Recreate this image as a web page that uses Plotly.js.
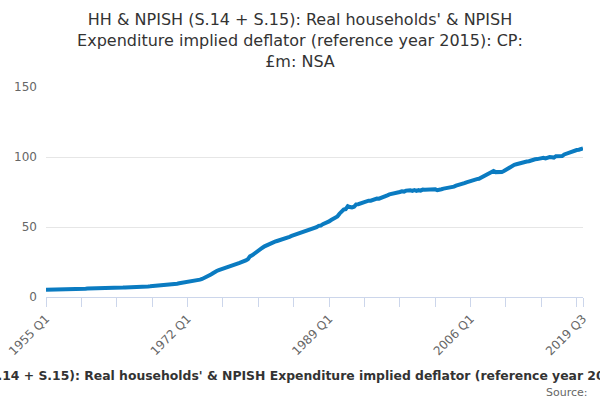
<!DOCTYPE html>
<html>
<head>
<meta charset="utf-8">
<script src="https://cdn.plot.ly/plotly-3.0.1.min.js"></script>
<style>
  html, body { margin: 0; padding: 0; background: #fff; }
  #chart { width: 600px; height: 400px; }
</style>
</head>
<body>
<div id="chart"></div>
<script>
var firstYear = 1955;
var lastYear = 2019;
var quarterNames = ["Q1", "Q2", "Q3", "Q4"];

// implied deflator, one row per year, Q1..Q4
var deflator = [
    5.2, 5.2, 5.3, 5.3,       // 1955
    5.4, 5.4, 5.5, 5.5,
    5.6, 5.6, 5.7, 5.7,
    5.8, 5.8, 5.8, 5.9,
    5.9, 5.9, 5.9, 5.9,
    6.0, 6.0, 6.0, 6.1,       // 1960
    6.1, 6.2, 6.2, 6.3,
    6.3, 6.4, 6.4, 6.4,
    6.5, 6.5, 6.5, 6.6,
    6.6, 6.7, 6.8, 6.8,
    6.9, 7.0, 7.1, 7.1,       // 1965
    7.2, 7.3, 7.4, 7.4,
    7.5, 7.5, 7.6, 7.7,
    7.8, 7.9, 8.1, 8.2,
    8.3, 8.5, 8.6, 8.7,
    8.9, 9.1, 9.3, 9.5,       // 1970
    9.8, 10.0, 10.2, 10.4,
    10.6, 10.8, 11.0, 11.3,
    11.6, 12.0, 12.4, 12.9,
    13.5, 14.3, 15.0, 15.8,
    16.8, 17.9, 18.6, 19.2,   // 1975
    19.8, 20.3, 20.8, 21.4,
    21.9, 22.6, 23.1, 23.5,
    23.9, 24.4, 24.8, 25.4,
    26.1, 27.0, 29.0, 29.8,
    31.0, 32.5, 33.6, 34.5,   // 1980
    35.2, 36.2, 37.0, 37.7,
    38.4, 39.0, 39.5, 40.0,
    40.4, 40.9, 41.4, 41.9,
    42.4, 43.0, 43.6, 44.1,
    44.6, 45.2, 45.6, 46.0,   // 1985
    46.4, 46.7, 47.2, 48.2,
    48.9, 49.4, 49.9, 50.8,
    51.0, 52.0, 52.5, 53.2,
    54.0, 55.0, 55.6, 56.5,
    57.5, 59.5, 61.0, 62.5,   // 1990
    62.8, 64.9, 64.3, 64.0,
    64.5, 66.2, 66.3, 66.8,
    67.0, 68.1, 68.4, 68.8,
    68.8, 69.4, 69.8, 70.3,
    70.2, 71.0, 71.6, 72.4,   // 1995
    72.6, 73.3, 73.5, 74.0,
    74.0, 74.7, 75.0, 75.5,
    75.3, 76.0, 76.2, 76.3,
    75.8, 76.3, 75.8, 76.3,
    76.0, 76.7, 76.6, 76.8,   // 2000
    76.4, 77.0, 76.8, 76.9,
    76.3, 77.0, 77.0, 77.4,
    77.6, 78.2, 78.3, 78.7,
    78.8, 79.5, 79.8, 80.3,
    80.5, 81.3, 81.9, 82.5,   // 2005
    82.6, 83.4, 83.8, 84.2,
    84.4, 85.3, 85.9, 86.6,
    87.5, 88.6, 89.8, 90.0,
    89.2, 89.0, 89.1, 89.3,
    90.0, 91.0, 91.5, 92.3,   // 2010
    93.2, 94.4, 94.8, 95.3,
    95.4, 96.0, 96.3, 96.8,
    97.0, 97.6, 98.0, 98.4,
    98.5, 98.9, 99.2, 99.4,
    99.0, 99.6, 99.9, 99.8,   // 2015
    99.6, 100.6, 100.8, 101.0,
    100.7, 101.8, 102.4, 102.9,
    103.0, 104.0, 104.5, 105.0,
    105.2, 105.8, 106.1       // 2019 Q1-Q3
];

var labelledPeriods = ["1955 Q1", "1972 Q1", "1989 Q1", "2006 Q1", "2019 Q3"];
var yTicks = [0, 50, 100, 150];

var chartTitle = "HH & NPISH (S.14 + S.15): Real households' & NPISH<br>" +
    "Expenditure implied deflator (reference year 2015): CP:<br>£m: NSA";
var seriesName = "HH & NPISH (S.14 + S.15): Real households' & NPISH Expenditure implied deflator (reference year 2015): CP: £m: NSA";
var sourceText = "Source:";

var periods = [];
for (var year = firstYear; year <= lastYear; year++)
{
    for (var q = 0; q < 4; q++)
    {
        if (periods.length < deflator.length)
        {
            periods.push(year + " " + quarterNames[q]);
        }
    }
}

// a tick mark every 17 quarters, labels only on the chosen periods
var tickStep = 17;
var tickVals = [];
var tickText = [];
for (var i = 0; i < periods.length; i += tickStep)
{
    tickVals.push(periods[i]);
    tickText.push(labelledPeriods.indexOf(periods[i]) >= 0 ? periods[i] : "");
}
var lastPeriod = periods[periods.length - 1];
tickVals.push(lastPeriod);
tickText.push(lastPeriod);

var fontFamily = "DejaVu Sans, Verdana, sans-serif";

var trace =
{
    x: periods,
    y: deflator,
    type: "scatter",
    mode: "lines",
    name: seriesName,
    line: { color: "#0a7bc1", width: 4 },
    hoverinfo: "x+y"
};

var layout =
{
    width: 600,
    height: 400,
    margin: { l: 46, r: 17, t: 87, b: 103 },
    paper_bgcolor: "#ffffff",
    plot_bgcolor: "#ffffff",
    showlegend: false,
    font: { family: fontFamily, color: "#666666", size: 12 },
    title:
    {
        text: chartTitle,
        font: { family: fontFamily, size: 16, color: "#333333" },
        x: 0.5,
        xanchor: "center",
        y: 0.937,
        yanchor: "top"
    },
    xaxis:
    {
        type: "category",
        range: [0, periods.length - 1],
        tickmode: "array",
        tickvals: tickVals,
        ticktext: tickText,
        tickangle: -45,
        ticks: "outside",
        ticklen: 9,
        tickcolor: "#ccd6eb",
        showline: true,
        linecolor: "#ccd6eb",
        linewidth: 1,
        showgrid: false,
        zeroline: false,
        tickfont: { family: fontFamily, size: 12, color: "#666666" },
        fixedrange: true
    },
    yaxis:
    {
        range: [0, 150],
        tickmode: "array",
        tickvals: yTicks,
        ticks: "",
        showgrid: true,
        gridcolor: "#e6e6e6",
        gridwidth: 1,
        zeroline: false,
        showline: false,
        ticklabelstandoff: 8,
        tickfont: { family: fontFamily, size: 12, color: "#666666" },
        fixedrange: true
    },
    annotations:
    [
        {
            // the reference clips this long caption at both edges
            text: "<b>" + seriesName + "</b>",
            xref: "paper", yref: "paper",
            x: 0.491, y: -0.376,
            xanchor: "center", yanchor: "middle",
            showarrow: false,
            font: { family: fontFamily, size: 12.4, color: "#333333" }
        },
        {
            text: sourceText,
            xref: "paper", yref: "paper",
            x: 1.013, y: -0.455,
            xanchor: "right", yanchor: "middle",
            showarrow: false,
            font: { family: fontFamily, size: 11, color: "#666666" }
        }
    ]
};

Plotly.newPlot("chart", [trace], layout, { displayModeBar: false, responsive: false });
</script>
</body>
</html>
